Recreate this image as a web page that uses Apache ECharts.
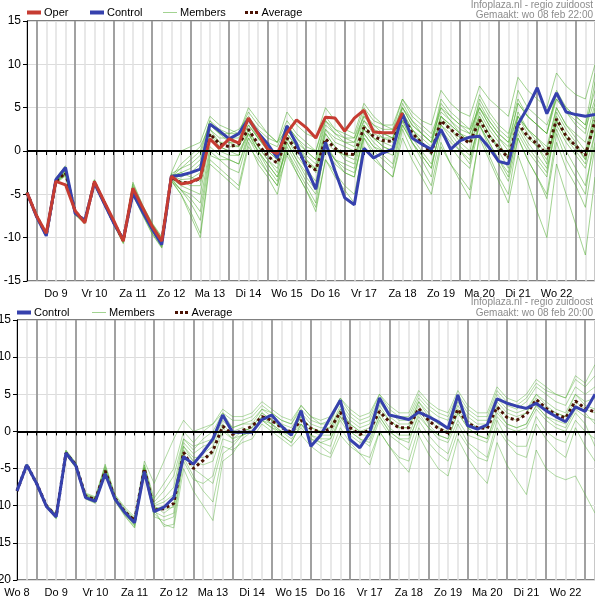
<!DOCTYPE html>
<html><head><meta charset="utf-8">
<script src="https://cdn.jsdelivr.net/npm/echarts@6/dist/echarts.min.js"></script>
<style>html,body{margin:0;padding:0;background:#fff}#c{width:595px;height:611px}</style>
</head><body><div id="c"></div>
<script>
// ---- tick labels ----
const dayLabels = ['Wo 8','Do 9','Vr 10','Za 11','Zo 12','Ma 13','Di 14','Wo 15','Do 16','Vr 17','Za 18','Zo 19','Ma 20','Di 21','Wo 22','Do 23'];
const hourLabels = ['00','06','12','18'];

// ---- top panel (6-hourly, from Wo 8 18:00) ----
const operTop = [-4.8,-7.5,-9.5,-3.5,-3.9,-6.9,-8.3,-3.5,-5.8,-8.0,-10.4,-4.3,-6.5,-8.7,-10.4,-2.9,-3.8,-3.6,-3.1,1.4,0.3,1.4,0.9,3.8,2.0,0.2,-0.3,2.1,3.6,2.7,1.5,3.9,3.8,2.3,3.8,4.7,2.2,2.1,2.1,4.4];
const controlTop = [-4.8,-7.6,-9.8,-3.3,-1.9,-7.2,-8.0,-3.7,-6.0,-8.3,-10.2,-4.9,-7.0,-9.0,-10.8,-2.9,-2.8,-2.5,-2.1,3.1,2.3,1.4,2.0,3.7,2.1,0.8,-0.8,2.9,0.8,-1.9,-4.4,1.0,-2.3,-5.4,-6.2,0.3,-0.8,-0.2,0.2,4.3,1.5,0.8,0.2,2.5,0.2,1.2,1.6,1.7,0.4,-1.2,-1.5,3.1,5.0,7.3,4.3,6.7,4.5,4.2,4.0,4.2];
const averageTop = [-4.8,-7.5,-9.7,-3.5,-2.5,-7.0,-8.1,-3.6,-5.9,-8.2,-10.3,-4.6,-6.8,-8.9,-10.5,-3.0,-3.7,-3.6,-3.2,2.0,0.8,0.5,0.8,2.5,0.8,-0.6,-1.4,1.5,0.2,-1.5,-2.2,1.4,0.3,-0.3,-0.4,2.7,1.7,1.2,1.1,4.0,2.1,0.9,-0.2,3.5,2.5,1.6,0.9,3.6,1.7,0.4,-0.8,3.2,1.7,0.8,-0.4,3.7,1.7,0.6,-0.5,3.5];
const memberTopA = [-4.8,-7.4,-9.6,-3.2,-2.0,-6.9,-8.0,-3.4,-5.7,-8.0,-10.1,-4.2,-6.5,-8.6,-10.2,-2.5,0,0.5,1,4,3,2.5,2,5,3.5,2,1,4.5,3,2,1.5,5,3.5,2.5,2,5.5,4,3,2.5,6,4.5,3.5,3,7,5.5,4.5,4,7.5,6,5,4,8.5,7,6,5,9,7.5,6.5,6,10];
const memberTopB = [-4.8,-7.6,-9.8,-3.6,-2.8,-7.3,-8.3,-3.8,-6.1,-8.4,-10.6,-4.9,-7.2,-9.3,-11.0,-3.5,-5,-7,-9.5,-1,-2,-3,-4,1,-1.5,-3,-5,0,-2.5,-4.5,-6.5,-1,-3,-4.5,-6,1.5,-0.5,-2,-3,2.5,0,-2,-4,1,-1.5,-3.5,-5.5,2,-0.5,-3,-5,1.5,-1,-3,-5.5,1,-2,-4,-6.5,0.5];
const memberTopC = [-4.8,-7.5,-9.6,-3.3,-2.2,-7.0,-8.1,-3.5,-5.8,-8.1,-10.2,-4.4,-6.6,-8.7,-10.4,-3,-2,-1,0,3.5,2,1.5,1.5,3.5,1.5,0,-1,2.5,1,-1,-2,2,0.5,-1,-1.5,3,1.5,0.5,0,4.5,2.5,1,0,4,3,2,1,5,3,1.5,0,4.5,2.5,1,-0.5,3,1,-0.5,-2,2];
const memberTopD = [-4.8,-7.6,-9.7,-3.5,-2.6,-7.2,-8.2,-3.7,-6.0,-8.3,-10.4,-4.7,-7.0,-9.1,-10.8,-3.5,-4.5,-5,-6,0.5,-0.5,-1,-1.5,2,0,-2,-3.5,1,-1,-3,-4.5,0,-1.5,-2.5,-3,2,0.5,0,0,3.5,1.5,0,-1.5,2.5,1,0,-1,3,1,-1,-2.5,2,0,-1.5,-3,3.5,1.5,0,-1.5,4];
const memberTopE = [-4.8,-7.5,-9.7,-3.1,-1.7,-7.0,-8.0,-3.3,-5.8,-8.1,-10.2,-3.8,-6.3,-8.4,-10.0,-2.8,-3.3,-3.2,-2.5,2.5,1.5,1.5,2,3.5,2,1,0.5,3,1.5,0,-1,3,2,1.5,1.5,4,3,2.5,2.5,5,3.5,2.5,1.5,4.5,3.5,2.5,2,5.5,3.5,2,1,4,2.5,1.5,0.5,5,3,2,1,5.5];
const memberTopF = [-4.8,-7.5,-9.8,-3.6,-2.7,-7.2,-8.2,-3.7,-6.0,-8.3,-10.5,-4.8,-7.0,-9.0,-10.7,-3.2,-4,-4.5,-5,1.5,0,-0.5,-0.5,2,0,-1.5,-3,0.5,-1.5,-3.5,-5,0.5,-1,-1.5,-2,2.5,1,0,-0.5,3,1,-0.5,-2,3,2,0.5,-0.5,3,1,-1,-3,2.5,0.5,-1,-2.5,4,2,0.5,-1,3];
const memberTopG = [-4.8,-7.4,-9.6,-3.4,-2.3,-7.0,-8.0,-3.5,-5.8,-8.1,-10.2,-4.3,-6.5,-8.5,-10.3,-3,-1.5,-0.5,0.5,3,2,2,2.5,4,2.5,1.5,1,3.5,2,1,0,3.5,2.5,2,1.5,5,3.5,3,3,6,4,3,2,5,4,3,2.5,6.5,4.5,3,2,6,4,3,2,7,5,4,3,7];
const memberTopH = [-4.8,-7.6,-9.8,-3.7,-2.9,-7.4,-8.4,-3.9,-6.2,-8.5,-10.7,-5.1,-7.4,-9.6,-11.2,-3.3,-4.5,-6,-8,-0.5,-1,-2,-2.5,1.5,0,-1.5,-3,0,-2,-4,-6,1,-1,-2.5,-3,2,0.5,-0.5,-1.5,3.5,1,-1,-3,2,0.5,-1,-2,3,0.5,-1.5,-3.5,1.5,-1,-3,-5,2,-1,-3,-5,2.5];
const memberTopI = [-4.8,-7.5,-9.7,-3.4,-2.4,-7.1,-8.1,-3.6,-5.9,-8.2,-10.3,-4.5,-6.7,-8.8,-10.5,-2.7,-3,-2.5,-1.5,2.5,1,0.5,0.5,2.5,0.5,-1,-2,2,0.5,-1,-2.5,2.5,1.5,1,1,3.5,2,1.5,1.5,5,3,2,1,4,3,2,1.5,4,2,0.5,-1,4,2.5,1.5,0,5,3,1.5,0,4.5];
const memberTopJ = [-4.8,-7.5,-9.7,-3.5,-2.5,-7.1,-8.2,-3.6,-5.9,-8.2,-10.4,-4.6,-6.9,-9.0,-10.6,-3.1,-3.8,-3.5,-3,1.5,0.5,0,0,2,0.5,-0.5,-1.5,1.5,0,-1.5,-2,1,0,-0.5,-0.5,2.5,1.5,1,0.5,4,2,1,0,3.5,2.5,1.5,1,3.5,1.5,0.5,-0.5,3,1.5,0.5,-1,3.5,1.5,0.5,-0.5,3.5];
const memberTopK = [-4.8,-7.6,-9.8,-3.5,-2.6,-7.3,-8.3,-3.8,-6.1,-8.4,-10.5,-4.9,-7.3,-9.5,-11.1,-3.4,-5,-7.5,-10,-1.5,-2.5,-3.5,-4.5,0.5,-1,-2.5,-4,-0.5,-2.5,-4.5,-7,-1,-2.5,-4,-5,0.5,-1,-2,-3,1.5,-1,-3,-5,0.5,-1.5,-3,-4.5,1.5,-1,-3.5,-6,-0.5,-3.5,-7,-10,-1.5,-5,-8.5,-12,-3];
const memberTopL = [-4.8,-7.4,-9.6,-3.2,-2.1,-6.9,-8.0,-3.4,-5.7,-8.0,-10.1,-3.6,-6.2,-8.3,-9.9,-2.9,-2.5,-2,-1,3,2,1,0.5,3,1.5,0.5,-0.5,3,1.5,0.5,0,4,2.5,1.5,1,4,2.5,2,1.5,5.5,3.5,2,1,5,3.5,2,1,6,4,2.5,1.5,7,5,4,3,6,4.5,3.5,2.5,6];
const memberTopM = [-4.8,-7.5,-9.7,-3.5,-2.6,-7.2,-8.2,-3.7,-6.0,-8.3,-10.4,-4.8,-7.1,-9.2,-10.9,-3.2,-4.5,-5.5,-7,0,-1,-1,-1.5,1.5,-0.5,-2.5,-4,1,-1,-2.5,-4,0.5,-1,-2,-2.5,1.5,0,-1,-2,3,1,-0.5,-2,3,1.5,0,-1.5,4,2,0,-2,3,1,-0.5,-2,2.5,0,-2,-4,1];
const memberTopN = [-4.8,-7.4,-9.6,-3.3,-2.2,-6.9,-8.0,-3.4,-5.7,-8.0,-10.1,-4.0,-6.4,-8.5,-10.2,-2.6,-2,-1.5,-0.5,3.5,2.5,2,2,4.5,3,2,1,2.5,1,0,-1,3.5,2,1,0.5,4.5,3,2,1.5,4,2.5,1.5,0.5,5.5,4,3,2,5,3,1.5,0.5,5.5,4,3,2,6,4.5,3,2,8];
const memberTopO = [-4.8,-7.5,-9.7,-3.4,-2.5,-7.1,-8.1,-3.6,-5.9,-8.2,-10.3,-4.6,-6.8,-8.9,-10.6,-3,-3.5,-4,-4,2,0.5,0,-0.5,2.5,0.5,-1,-2.5,1.5,-0.5,-2,-3.5,2,0.5,-0.5,-1,3,1.5,0.5,0,4.5,2.5,1,-0.5,4,2.5,1,0,4.5,2.5,1,-1,4,2,0.5,-1.5,4.5,2.5,1,-1,5];
const memberTopP = [-4.8,-7.5,-9.7,-3.3,-2.3,-7.0,-8.1,-3.5,-5.8,-8.1,-10.2,-4.4,-6.7,-8.8,-10.5,-2.9,-2.5,-3,-3.5,2,1,1,1,3,1.5,0,-1,2,0.5,-0.5,-1.5,2.5,1,0.5,0,3.5,2.5,1.5,1,5,3,2,1,6,4.5,3.5,2.5,5,3.5,2,1,5.5,4,3,2,6.5,5,4,3,9];

// ---- bottom panel (6-hourly, from Wo 8 12:00) ----
const controlBot = [-8.0,-4.5,-7.0,-10.1,-11.5,-2.9,-4.6,-8.9,-9.4,-5.7,-9.1,-10.9,-12.3,-5.4,-10.8,-10.2,-8.9,-3.4,-4.4,-2.8,-1.0,2.2,-0.1,-0.1,-0.1,1.6,2.2,0.7,-0.5,2.8,-2.0,-0.5,1.9,4.2,-1.1,-2.2,-0.2,4.5,2.2,1.9,1.6,2.6,2.0,1.3,0.4,4.9,0.8,0.3,0.9,4.4,3.8,3.4,3.1,3.8,2.8,2.0,1.3,3.3,2.7,5.0];
const averageBot = [-8.0,-4.5,-7.0,-10.0,-11.4,-2.9,-4.5,-8.7,-9.2,-5.3,-9.0,-10.8,-12.0,-5.0,-10.6,-10.4,-9.7,-2.8,-5.0,-3.9,-2.6,0.7,-0.4,0.1,0.7,2.0,1.5,0.5,-0.1,1.5,0.4,-0.2,0.4,2.6,0.5,-0.4,0.2,2.7,1.3,0.5,0.5,3.1,1.5,0.4,-0.2,3.0,1.1,0.5,0.4,3.3,1.9,1.5,2.3,4.3,3.1,2.3,1.8,4.1,3.1,2.6];
const memberBot1 = [-8.0,-4.5,-7.0,-10.1,-11.6,-2.8,-4.4,-8.6,-9.1,-5.1,-8.9,-10.9,-12.4,-5,-10,-11,-10,-2.5,-4,-3,-2,1,-0.5,0,0.5,2.5,1.5,0.5,0,2,0.5,0,0.5,3,1,0,0.5,3,1.5,0.5,0.5,3.5,1.5,0.5,0,3,1,0.5,0.5,3.5,2,1.5,2.5,4.5,3,2.5,2,4,3,2.5];
const memberBot2 = [-8.0,-4.5,-6.9,-9.9,-11.3,-2.6,-4.3,-8.5,-9.0,-4.8,-8.8,-10.6,-11.8,-4.5,-9.5,-8,-6,-1,-2.5,-1,0,2.5,0.5,1,1.5,3,2.5,1.5,1,3,1.5,1,1.5,4,2,1,1.5,4.5,2.5,1.5,1.5,4.5,3,2,1.5,4.5,2.5,1.5,1.5,5,3.5,3,4,6,5,4,3.5,6,5,6];
const memberBot3 = [-8.0,-4.6,-7.1,-10.2,-11.7,-3.1,-4.8,-9.0,-9.6,-5.6,-9.3,-11.3,-12.9,-5.5,-11,-12.5,-13,-5,-8,-10,-12,-4,-3,-1,0,1.5,1,0,-1,0.5,-1,-1.5,-1,1.5,-0.5,-1.5,-1,2,0,-1,-1,2,0.5,-1,-1.5,1.5,-0.5,-1,-1.5,2,0.5,0,0.5,3,1.5,0.5,0,2.5,1,-2];
const memberBot4 = [-8.0,-4.5,-7.0,-10.0,-11.4,-2.9,-4.6,-8.8,-9.3,-5.4,-9.1,-10.9,-12.2,-5,-10.5,-10,-9,-2,-3.5,-3.5,-3,0.5,-1,-0.5,0,2,1,0,-0.5,1.5,0,-0.5,-0.5,2.5,0.5,-0.5,-0.5,2.5,0.5,-0.5,-0.5,3,1,-0.5,-1,2.5,0.5,-0.5,-1,2.5,1,0.5,1,3.5,2,1,0.5,3,2,1.5];
const memberBot5 = [-8.0,-4.4,-6.9,-9.8,-11.1,-2.5,-4.2,-8.3,-8.8,-4.4,-8.5,-10.2,-11.5,-4,-7,-4,-1,1.5,0,0.5,1,3,2,2,2.5,4,3,2,1.5,3.5,2,1.5,2,4.5,3,2,2.5,5,3.5,2.5,2.5,5.5,4,3,2.5,5.5,3.5,2.5,2.5,6,4.5,4,5,7,6,5,4.5,7.5,6.5,9];
const memberBot6 = [-8.0,-4.6,-7.1,-10.1,-11.6,-3.0,-4.7,-8.9,-9.5,-5.5,-9.2,-11.1,-12.6,-5.2,-10.8,-11.5,-11,-3,-5,-6,-7,-2,-2.5,-1.5,-1,1,0,-1,-2,-0.5,-2,-3,-3.5,-0.5,-2,-3,-3.5,0,-2,-3.5,-4,0.5,-1.5,-3,-4,0,-2,-3.5,-4,0.5,-1.5,-3,-3.5,1,-1,-2.5,-3.5,0.5,-2,-4];
const memberBot7 = [-8.0,-4.5,-7.0,-10.0,-11.5,-2.9,-4.5,-8.7,-9.2,-5.3,-9.0,-10.8,-12.1,-5,-10,-9.5,-8.5,-1.5,-3,-2,-1.5,1.5,0,0.5,0,2,1,-0.5,-1.5,1,-1,-2,-3,0.5,-1.5,-3,-4.5,0,-2,-4,-5.5,-0.5,-3,-5,-6,-1,-3.5,-5.5,-7,-1.5,-4.5,-6.5,-8.5,-2.5,-5,-6,-6.5,-6,-8.5,-11];
const memberBot8 = [-8.0,-4.5,-7.0,-9.9,-11.3,-2.7,-4.4,-8.6,-9.1,-5.0,-8.9,-10.7,-11.9,-4.8,-9.8,-9,-7.5,-1,-2,-1.5,-1,2,0.5,1,1,3,2,1,0.5,2.5,1,0.5,0.5,3.5,1.5,0.5,1,4,2,1,1,4,2.5,1,0.5,4,2,1,1,4.5,3,2.5,3,5,4,3,2.5,5,4,4.5];
const memberBot9 = [-8.0,-4.6,-7.1,-10.2,-11.8,-3.2,-4.9,-9.1,-9.7,-5.8,-9.4,-11.4,-13.0,-5.5,-11.5,-12,-11.5,-4,-6.5,-7,-6,-1,-1.5,-0.5,0,1.5,0.5,0,-0.5,1,-0.5,-1,-1,2,0,-1,-1.5,2,0,-1,-1.5,2.5,0.5,-0.5,-1,2.5,0.5,-0.5,-1,3,1,0.5,1,3.5,2,1.5,1,3.5,2.5,1];
const memberBot10 = [-8.0,-4.4,-6.9,-9.9,-11.2,-2.6,-4.3,-8.4,-8.9,-4.6,-8.6,-10.4,-11.7,-4.5,-9,-7,-5,0,-1.5,0,1,2.5,1.5,1.5,2,3.5,2.5,1.5,1,3.5,2,1,1,4.5,2.5,1.5,2,5,3,2,2,5,3.5,2.5,2,5,3,2,2,5.5,4,3.5,4.5,6.5,5.5,5,4.5,7,6,7.5];
const memberBot11 = [-8.0,-4.5,-7.0,-10.0,-11.4,-2.9,-4.5,-8.7,-9.2,-5.2,-9.0,-10.8,-12.0,-5,-10.2,-10.5,-10.2,-2,-4,-4.5,-4,0,-1,0,0.5,2.5,1.5,0.5,-0.5,2,0.5,0,0,3,1,0,0,3.5,1.5,0.5,0.5,4,2,1,0.5,3.5,1.5,0.5,0.5,4,2.5,2,2.5,5,3.5,2.5,2,5,3.5,3];
const memberBot12 = [-8.0,-4.5,-7.1,-10.1,-11.6,-3.0,-4.7,-8.9,-9.4,-5.5,-9.2,-11.1,-12.7,-5,-10.5,-12.8,-12.5,-3.5,-6,-8,-9.5,-3,-2,-0.5,0,1.5,0.5,-0.5,-1.5,1,-0.5,-1.5,-2,2,0,-1,-2,1.5,-0.5,-1.5,-2.5,1.5,-0.5,-2,-3,1,-1.5,-2.5,-3.5,1.5,-1,-2,-2,2,0,-1,-1.5,1.5,0,-1];

const membersTop = [memberTopA,memberTopB,memberTopC,memberTopD,memberTopE,memberTopF,memberTopG,memberTopH,memberTopI,memberTopJ,memberTopK,memberTopL,memberTopM,memberTopN,memberTopO,memberTopP];
const membersBot = [memberBot1,memberBot2,memberBot3,memberBot4,memberBot5,memberBot6,memberBot7,memberBot8,memberBot9,memberBot10,memberBot11,memberBot12];

function buildCats(startHourIdx, n) {
  const out = [];
  let d = 0, h = startHourIdx;
  for (let k = 0; k < n; k++) {
    out.push(dayLabels[d] + ' ' + hourLabels[h]);
    h++; if (h === 4) { h = 0; d++; }
  }
  return out;
}
const catsTop = buildCats(3, controlTop.length);
const catsBot = buildCats(2, controlBot.length);

const FONT = "'Liberation Sans',Arial,sans-serif";
const C_OPER = '#c63c32', C_CTRL = '#3641ad', C_MEM = 'rgba(85,175,55,0.55)', C_MEM_B = 'rgba(85,175,55,0.45)', C_AVG = '#4a1204';

function xMain(cats, grid) {
  const n = cats.length;
  return {
    type: 'category', data: cats, gridIndex: grid, boundaryGap: false,
    axisLine: { lineStyle: { color: '#000', width: 1 } },
    axisTick: { show: true, interval: 0, length: 4, lineStyle: { color: '#000' } },
    axisLabel: { interval: (i, v) => v.endsWith(' 12') && i < n - 1, formatter: v => v.slice(0, -3),
      color: '#000', fontSize: 11, fontFamily: FONT, margin: 7, showMinLabel: true, showMaxLabel: true, hideOverlap: false },
    splitLine: { show: true, interval: 0, lineStyle: { color: '#e0e0e0', width: 1.5 } }
  };
}
function xDays(cats, grid) {
  return {
    type: 'category', data: cats, gridIndex: grid, boundaryGap: false, position: 'bottom',
    axisLine: { show: false }, axisTick: { show: false }, axisLabel: { show: false },
    splitLine: { show: true, interval: (i, v) => v.endsWith(' 00'), lineStyle: { color: '#8a8a8a', width: 1.5 } }
  };
}
function yAx(grid, min, max, labMargin) {
  return {
    type: 'value', gridIndex: grid, min: min, max: max, interval: 5,
    axisLine: { show: true, lineStyle: { color: '#000' } },
    axisTick: { show: true, length: 4, lineStyle: { color: '#000' } },
    axisLabel: { color: '#000', fontSize: 12, fontFamily: FONT, margin: labMargin },
    splitLine: { show: true, lineStyle: { color: '#dcdcdc', width: 1 } }
  };
}

const series = [];
membersTop.forEach(m => series.push({ type: 'line', name: 'Members', xAxisIndex: 0, yAxisIndex: 0, data: m,
  symbol: 'none', silent: true, lineStyle: { color: C_MEM, width: 1 }, itemStyle: { color: C_MEM } }));
series.push({ type: 'line', name: 'Average', xAxisIndex: 0, yAxisIndex: 0, data: averageTop, symbol: 'none',
  lineStyle: { color: C_AVG, width: 3, type: [3, 3] }, itemStyle: { color: C_AVG } });
series.push({ type: 'line', name: 'Control', xAxisIndex: 0, yAxisIndex: 0, data: controlTop, symbol: 'none',
  lineStyle: { color: C_CTRL, width: 3 }, itemStyle: { color: C_CTRL },
  markLine: { silent: true, symbol: 'none', label: { show: false }, lineStyle: { color: '#000', width: 2, type: 'solid' }, data: [{ yAxis: 0 }] } });
series.push({ type: 'line', name: 'Oper', xAxisIndex: 0, yAxisIndex: 0, data: operTop, symbol: 'none',
  lineStyle: { color: C_OPER, width: 3 }, itemStyle: { color: C_OPER } });

membersBot.forEach(m => series.push({ type: 'line', name: 'Members', xAxisIndex: 2, yAxisIndex: 1, data: m,
  symbol: 'none', silent: true, lineStyle: { color: C_MEM_B, width: 1 }, itemStyle: { color: C_MEM_B } }));
series.push({ type: 'line', name: 'Average', xAxisIndex: 2, yAxisIndex: 1, data: averageBot, symbol: 'none',
  lineStyle: { color: C_AVG, width: 3, type: [3, 3] }, itemStyle: { color: C_AVG } });
series.push({ type: 'line', name: 'Control', xAxisIndex: 2, yAxisIndex: 1, data: controlBot, symbol: 'none',
  lineStyle: { color: C_CTRL, width: 3 }, itemStyle: { color: C_CTRL },
  markLine: { silent: true, symbol: 'none', label: { show: false }, lineStyle: { color: '#000', width: 2, type: 'solid' }, data: [{ yAxis: 0 }] } });

const ICONS = {
  Oper: 'rect', Control: 'rect', Members: 'rect',
  Average: 'path://M0,0h3v3h-3zM5,0h3v3h-3zM10,0h3v3h-3z'
};
const ICON_H = { Oper: 4, Control: 4, Members: 1, Average: 3 };
function leg(name, left, top) {
  const h = ICON_H[name];
  return { data: [{ name: name, icon: ICONS[name] }], left: left, top: top, padding: 0,
    itemWidth: 14, itemHeight: h, selectedMode: false,
    itemStyle: { borderWidth: 0 },
    textStyle: { color: '#000', fontSize: 11, fontFamily: FONT, padding: [0, 0, 0, -2] } };
}

const option = {
  animation: false,
  backgroundColor: '#fff',
  grid: [
    { left: 27, right: 0, top: 21, height: 260, show: true, borderColor: '#000', borderWidth: 1, backgroundColor: 'transparent', containLabel: false, outerBoundsMode: 'none' },
    { left: 17, right: 0, top: 320, height: 260, show: true, borderColor: '#000', borderWidth: 1, backgroundColor: 'transparent', containLabel: false, outerBoundsMode: 'none' }
  ],
  xAxis: [xMain(catsTop, 0), xDays(catsTop, 0), xMain(catsBot, 1), xDays(catsBot, 1)],
  yAxis: [yAx(0, -15, 15, 6), yAx(1, -20, 15, 6)],
  legend: [
    leg('Oper', 27, 7), leg('Control', 90, 7), leg('Members', 163, 7), leg('Average', 245, 7),
    leg('Control', 17, 307), leg('Members', 92, 307), leg('Average', 175, 307)
  ],
  graphic: [
    { type: 'text', right: 2, top: 0, style: { text: 'Infoplaza.nl - regio zuidoost', fill: '#8c8c8c', font: '10px ' + FONT } },
    { type: 'text', right: 2, top: 10, style: { text: 'Gemaakt: wo 08 feb 22:00', fill: '#8c8c8c', font: '10px ' + FONT } },
    { type: 'text', right: 2, top: 297, style: { text: 'Infoplaza.nl - regio zuidoost', fill: '#8c8c8c', font: '10px ' + FONT } },
    { type: 'text', right: 2, top: 308, style: { text: 'Gemaakt: wo 08 feb 20:00', fill: '#8c8c8c', font: '10px ' + FONT } }
  ],
  series: series
};
const chart = echarts.init(document.getElementById('c'), null, { renderer: 'canvas' });
chart.setOption(option);
</script>
</body></html>
